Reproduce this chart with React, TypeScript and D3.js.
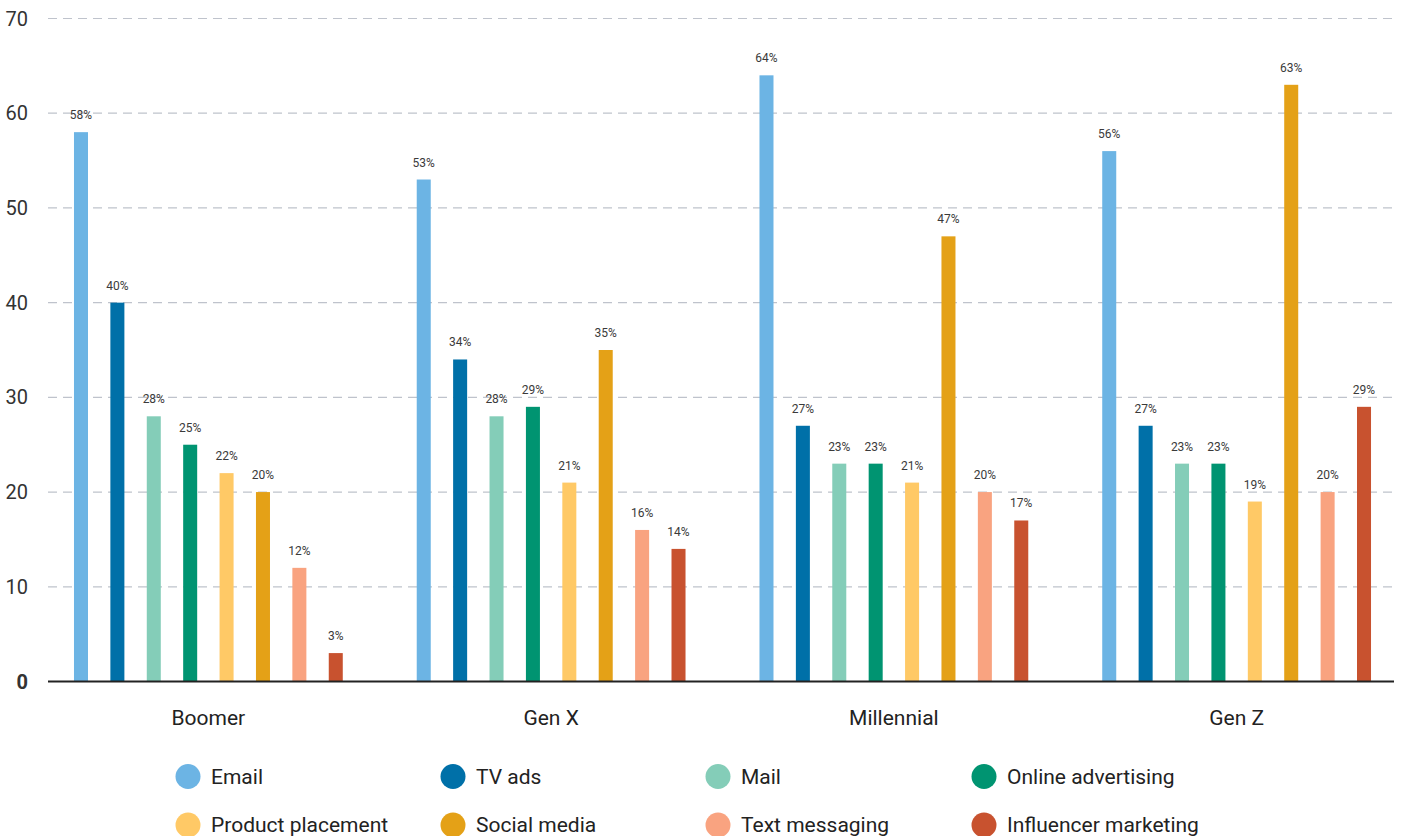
import React, { useEffect, useRef, FunctionComponent } from "react";
import * as d3 from "d3";

const generations = ["Boomer", "Gen X", "Millennial", "Gen Z"];
const channels = [
  "Email",
  "TV ads",
  "Mail",
  "Online advertising",
  "Product placement",
  "Social media",
  "Text messaging",
  "Influencer marketing",
];
const colors = [
  "#6cb4e4",
  "#0070a8",
  "#84cdb8",
  "#009471",
  "#ffc966",
  "#e4a117",
  "#f9a380",
  "#c8522f",
];
// values per generation, in channel order
const boomer = [58, 40, 28, 25, 22, 20, 12, 3];
const genX = [53, 34, 28, 29, 21, 35, 16, 14];
const millennial = [64, 27, 23, 23, 21, 47, 20, 17];
const genZ = [56, 27, 23, 23, 19, 63, 20, 29];
const values = [boomer, genX, millennial, genZ];
const yTicks = [0, 10, 20, 30, 40, 50, 60, 70];

const WIDTH = 1403;
const HEIGHT = 836;
const FONT = "Roboto, 'Noto Sans', sans-serif";

const App: FunctionComponent = () => {
  const svgRef = useRef<SVGSVGElement>(null);

  useEffect(() => {
    document.body.style.margin = "0";
    const svg = d3.select(svgRef.current);
    svg.selectAll("*").remove();

    const axisLeft = 48;
    const axisRight = 1394;
    const x0 = d3.scaleBand().domain(generations).range([37, 1408]);
    const x1 = d3
      .scaleBand()
      .domain(channels)
      .range([0, x0.bandwidth()])
      .paddingInner(0.615)
      .paddingOuter(1.016);
    const y = d3.scaleLinear().domain([0, 70]).range([681.5, 18.5]);

    // grid
    const grid = svg.append("g");
    grid
      .selectAll("line")
      .data(yTicks.filter((t) => t > 0))
      .join("line")
      .attr("x1", axisLeft)
      .attr("x2", axisRight)
      .attr("y1", (d) => y(d))
      .attr("y2", (d) => y(d))
      .attr("stroke", "#bfc3cc")
      .attr("stroke-width", 1.2)
      .attr("stroke-dasharray", "9,6");

    grid
      .selectAll("text")
      .data(yTicks)
      .join("text")
      .attr("x", 28)
      .attr("y", (d) => y(d))
      .attr("dy", "0.35em")
      .attr("text-anchor", "end")
      .attr("font-family", FONT)
      .attr("font-size", 20)
      .attr("font-weight", (d) => (d === 0 ? 700 : 400))
      .attr("fill", "#333")
      .text((d) => d);

    // bars
    const groups = svg
      .append("g")
      .selectAll("g")
      .data(generations)
      .join("g")
      .attr("transform", (d) => `translate(${x0(d)},0)`);

    const cells = groups
      .selectAll("g")
      .data((g, gi) => channels.map((c, ci) => ({ c, ci, v: values[gi][ci] })))
      .join("g");

    cells
      .append("rect")
      .attr("x", (d) => x1(d.c) as number)
      .attr("width", x1.bandwidth())
      .attr("y", (d) => y(d.v))
      .attr("height", (d) => y(0) - y(d.v))
      .attr("fill", (d) => colors[d.ci]);

    cells
      .append("text")
      .attr("x", (d) => (x1(d.c) as number) + x1.bandwidth() / 2)
      .attr("y", (d) => y(d.v) - 13)
      .attr("text-anchor", "middle")
      .attr("font-family", FONT)
      .attr("font-size", 12)
      .attr("fill", "#3a3a3a")
      .text((d) => `${d.v}%`);

    groups
      .append("text")
      .attr("x", x0.bandwidth() / 2)
      .attr("y", 718)
      .attr("dy", "0.35em")
      .attr("text-anchor", "middle")
      .attr("font-family", FONT)
      .attr("font-size", 21)
      .attr("fill", "#222")
      .text((d) => d);

    // zero line
    svg
      .append("line")
      .attr("x1", axisLeft)
      .attr("x2", axisRight)
      .attr("y1", y(0))
      .attr("y2", y(0))
      .attr("stroke", "#222")
      .attr("stroke-width", 2);

    // legend
    const legendX = [188, 453, 718, 984];
    const legendY = [776.5, 825];
    const legend = svg
      .append("g")
      .selectAll("g")
      .data(channels)
      .join("g")
      .attr(
        "transform",
        (d, i) => `translate(${legendX[i % 4]},${legendY[Math.floor(i / 4)]})`
      );
    legend
      .append("circle")
      .attr("r", 12.5)
      .attr("fill", (d, i) => colors[i]);
    legend
      .append("text")
      .attr("x", 23)
      .attr("dy", "0.35em")
      .attr("font-family", FONT)
      .attr("font-size", 21)
      .attr("fill", "#222")
      .text((d) => d);
  }, []);

  return (
    <div style={{ position: "absolute", left: 0, top: 0 }}>
      <svg ref={svgRef} width={WIDTH} height={HEIGHT} style={{ display: "block" }} />
    </div>
  );
};

export default App;
